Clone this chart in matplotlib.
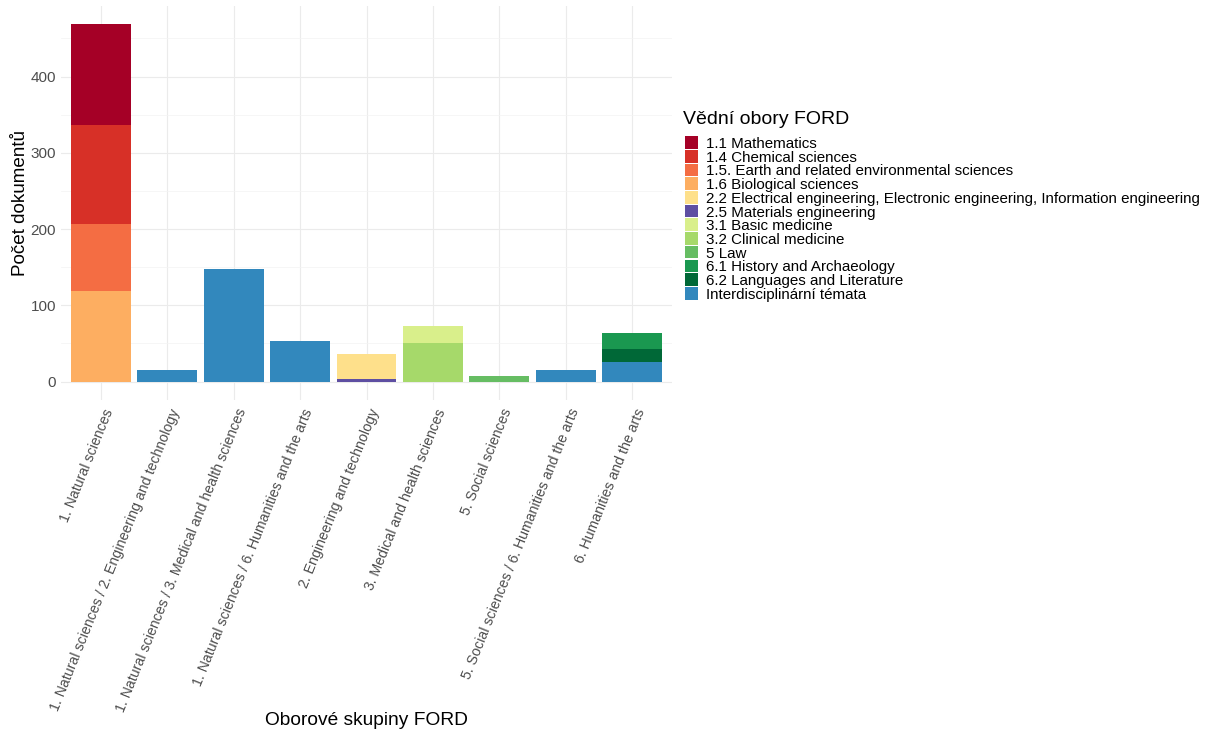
import matplotlib.pyplot as plt
import matplotlib.transforms as mtransforms
import numpy as np
from matplotlib.patches import Rectangle

plt.rcParams['font.family'] = ['Liberation Sans', 'DejaVu Sans']

groups = [
    '1. Natural sciences',
    '1. Natural sciences / 2. Engineering and technology',
    '1. Natural sciences / 3. Medical and health sciences',
    '1. Natural sciences / 6. Humanities and the arts',
    '2. Engineering and technology',
    '3. Medical and health sciences',
    '5. Social sciences',
    '5. Social sciences / 6. Humanities and the arts',
    '6. Humanities and the arts',
]

fields = [
    '1.1 Mathematics',
    '1.4 Chemical sciences',
    '1.5. Earth and related environmental sciences',
    '1.6 Biological sciences',
    '2.2 Electrical engineering, Electronic engineering, Information engineering',
    '2.5 Materials engineering',
    '3.1 Basic medicine',
    '3.2 Clinical medicine',
    '5 Law',
    '6.1 History and Archaeology',
    '6.2 Languages and Literature',
    'Interdisciplinární témata',
]

field_colors = ['#A50026', '#D73027', '#F46D43', '#FDAE61', '#FEE08B', '#5E4FA2',
                '#D9EF8B', '#A6D96A', '#66BD63', '#1A9850', '#006837', '#3288BD']

# counts per field, one value per group
mathematics = [132, 0, 0, 0, 0, 0, 0, 0, 0]
chemical = [131, 0, 0, 0, 0, 0, 0, 0, 0]
earth = [87, 0, 0, 0, 0, 0, 0, 0, 0]
biological = [119, 0, 0, 0, 0, 0, 0, 0, 0]
electrical = [0, 0, 0, 0, 33, 0, 0, 0, 0]
materials = [0, 0, 0, 0, 3, 0, 0, 0, 0]
basic_med = [0, 0, 0, 0, 0, 23, 0, 0, 0]
clinical_med = [0, 0, 0, 0, 0, 50, 0, 0, 0]
law = [0, 0, 0, 0, 0, 0, 7, 0, 0]
history = [0, 0, 0, 0, 0, 0, 0, 0, 21]
languages = [0, 0, 0, 0, 0, 0, 0, 0, 17]
interdisc = [0, 15, 147, 53, 0, 0, 0, 15, 26]

series = [mathematics, chemical, earth, biological, electrical, materials,
          basic_med, clinical_med, law, history, languages, interdisc]

W, H = 1206, 734
fig = plt.figure(figsize=(W / 100, H / 100), dpi=100)
ax = fig.add_axes([61 / W, 1 - 399.5 / H, 611 / W, 393.5 / H])

x = np.arange(len(groups))
bottom = np.zeros(len(groups))
# ggplot stacks the first level on top, so draw from the last one up
for vals, col in zip(series[::-1], field_colors[::-1]):
    vals = np.array(vals, dtype=float)
    ax.bar(x, vals, width=0.9, bottom=bottom, color=col, zorder=2, linewidth=0)
    bottom += vals

total = bottom.max()
ax.set_xlim(-0.6, len(groups) - 0.4)
ax.set_ylim(-0.05 * total, total * 1.05)

ax.set_yticks([0, 100, 200, 300, 400])
ax.set_yticks([50, 150, 250, 350, 450], minor=True)
ax.set_xticks(x)
ax.set_xticklabels([])
ax.tick_params(axis='y', labelsize=11, labelcolor='#4D4D4D', length=0, which='both')
ax.tick_params(axis='x', length=0)

# rotated category labels, placed by hand to sit like ggplot's hjust=1
lab_trans = (mtransforms.blended_transform_factory(ax.transData, ax.transAxes)
             + mtransforms.ScaledTranslation(0.09, -0.097, fig.dpi_scale_trans))
for xi, g in zip(x, groups):
    ax.text(xi, 0, g, transform=lab_trans, rotation=68, ha='right', va='center',
            rotation_mode='anchor', fontsize=10.2, color='#4D4D4D')

ax.grid(True, which='major', color='#EBEBEB', linewidth=0.8, zorder=0)
ax.grid(True, which='minor', axis='y', color='#F3F3F3', linewidth=0.5, zorder=0)
ax.set_axisbelow(True)
for s in ax.spines.values():
    s.set_visible(False)

ax.set_ylabel('Počet dokumentů', fontsize=13.6, labelpad=1)
ax.set_xlabel('Oborové skupiny FORD', fontsize=13.8)
ax.xaxis.set_label_coords(0.5, -0.795)

# legend drawn by hand so the rows can sit as tightly as in ggplot
fig.text(683 / W, 1 - 120 / H, 'Vědní obory FORD', fontsize=14, ha='left', va='center')
row_h = 13.7
for i, (name, col) in enumerate(zip(fields, field_colors)):
    yc = 142.5 + i * row_h
    fig.patches.append(Rectangle((685 / W, 1 - (yc + 6.3) / H), 12.5 / W, 12.6 / H,
                                 transform=fig.transFigure, facecolor=col,
                                 edgecolor='none'))
    fig.text(706 / W, 1 - yc / H, name, fontsize=10.9, ha='left', va='center_baseline')

fig.savefig('out.png', dpi=100, facecolor='white')
